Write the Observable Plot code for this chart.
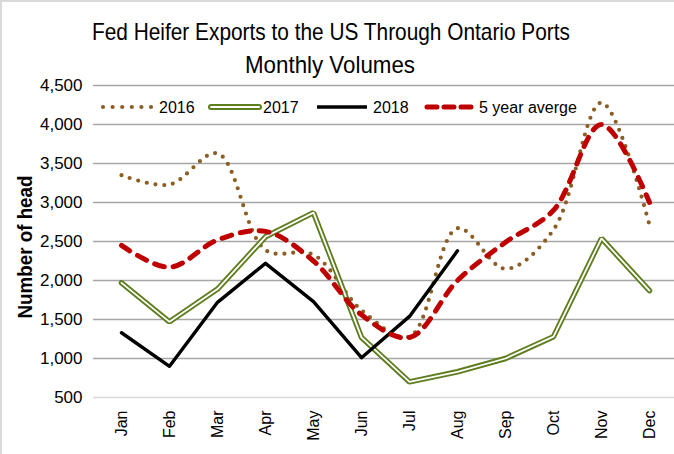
<!DOCTYPE html>
<html>
<head>
<meta charset="utf-8">
<script src="https://cdn.jsdelivr.net/npm/d3@7"></script>
<script src="https://cdn.jsdelivr.net/npm/@observablehq/plot@0.6"></script>
<style>
  html, body { margin: 0; padding: 0; background: #fff; }
  #wrap { position: relative; width: 674px; height: 454px; overflow: hidden; }
  #wrap > svg { position: absolute; left: 0; top: 0; }
  .ov text { font-family: "Liberation Sans", Arial, sans-serif; fill: #000; }
</style>
</head>
<body>
<div id="wrap"></div>
<script>
const months = ["Jan","Feb","Mar","Apr","May","Jun","Jul","Aug","Sep","Oct","Nov","Dec"];
const y2016 = [3350, 3230, 3630, 2390, 2330, 1620, 1280, 2670, 2150, 2650, 4280, 2710];
const y2017 = [1970, 1470, 1890, 2560, 2870, 1270, 700, 830, 1000, 1280, 2540, 1870];
const y2018 = [1330, 900, 1720, 2220, 1730, 1010, 1540, 2380];
const avg5  = [2450, 2170, 2520, 2630, 2250, 1560, 1270, 2000, 2490, 2900, 4000, 3000];
const yTicks = [500, 1000, 1500, 2000, 2500, 3000, 3500, 4000, 4500];
const seriesNames = ["2016", "2017", "2018", "5 year averge"];
const titleLines = ["Fed Heifer Exports to the US Through Ontario Ports", "Monthly Volumes"];
const yLabel = "Number of head";

const toRows = arr => arr.map((v, i) => ({month: months[i], value: v}));
const brown = "#8c5e24", green = "#5e7d1e", red = "#c00000";

const chart = Plot.plot({
  width: 674, height: 454,
  marginTop: 85, marginBottom: 57, marginLeft: 93, marginRight: 0,
  style: {fontFamily: "'Liberation Sans', Arial, sans-serif", fontSize: "16px", color: "#000", background: "transparent"},
  x: {type: "point", domain: months, range: [119.5, 650], padding: 0, label: null},
  y: {domain: [500, 4500], label: null},
  marks: [
    Plot.ruleY(yTicks.filter(v => v > 500), {stroke: "#a6a6a6", strokeWidth: 1.4}),
    Plot.ruleY([500], {stroke: "#d9d9d9", strokeWidth: 1.4}),
    Plot.axisY({ticks: yTicks, tickSize: 0, tickPadding: 11, tickFormat: d3.format(","), fontSize: 17, label: null}),
    Plot.axisX({tickSize: 0, tickRotate: -90, tickPadding: 13, fontSize: 16, label: null}),
    Plot.line(toRows(y2016), {x: "month", y: "value", curve: "catmull-rom", stroke: brown, strokeWidth: 4.2, strokeDasharray: "0 8.8", strokeLinecap: "round"}),
    Plot.line(toRows(y2017), {x: "month", y: "value", stroke: green, strokeWidth: 5.5, strokeLinejoin: "miter"}),
    Plot.line(toRows(y2017), {x: "month", y: "value", stroke: "#fff", strokeWidth: 1.8, strokeLinejoin: "miter"}),
    Plot.line(toRows(y2018), {x: "month", y: "value", stroke: "#000", strokeWidth: 3.4}),
    Plot.line(toRows(avg5), {x: "month", y: "value", curve: "catmull-rom", stroke: red, strokeWidth: 5, strokeDasharray: "10 9", strokeLinecap: "round"})
  ]
});
document.getElementById("wrap").appendChild(chart);

// overlay: title, y label, legend, frame border
const ns = "http://www.w3.org/2000/svg";
const ov = d3.select("#wrap").append("svg").attr("class", "ov")
  .attr("width", 674).attr("height", 454).attr("xmlns", ns);

ov.append("line").attr("x1", 1).attr("x2", 1).attr("y1", 0).attr("y2", 454).attr("stroke", "#d9d9d9").attr("stroke-width", 2);
ov.append("line").attr("x1", 0).attr("x2", 674).attr("y1", 1).attr("y2", 1).attr("stroke", "#d9d9d9").attr("stroke-width", 2);

ov.append("text").attr("x", 331).attr("y", 40).attr("text-anchor", "middle")
  .attr("font-size", 24).attr("textLength", 478).attr("lengthAdjust", "spacingAndGlyphs").text(titleLines[0]);
ov.append("text").attr("x", 330).attr("y", 73).attr("text-anchor", "middle")
  .attr("font-size", 24).attr("textLength", 170).attr("lengthAdjust", "spacingAndGlyphs").text(titleLines[1]);

ov.append("text").attr("transform", "translate(32,247) rotate(-90)").attr("text-anchor", "middle")
  .attr("font-size", 21).attr("font-weight", "bold").attr("textLength", 143).attr("lengthAdjust", "spacingAndGlyphs").text(yLabel);

const ly = 107;
const lg = ov.append("g");
lg.append("line").attr("x1", 103).attr("x2", 152).attr("y1", ly).attr("y2", ly)
  .attr("stroke", brown).attr("stroke-width", 4.2).attr("stroke-dasharray", "0 9.6").attr("stroke-linecap", "round");
lg.append("text").attr("x", 159).attr("y", ly + 6).attr("font-size", 16).text(seriesNames[0]);
lg.append("line").attr("x1", 211).attr("x2", 259).attr("y1", ly).attr("y2", ly)
  .attr("stroke", green).attr("stroke-width", 6).attr("stroke-linecap", "round");
lg.append("line").attr("x1", 211).attr("x2", 259).attr("y1", ly).attr("y2", ly)
  .attr("stroke", "#fff").attr("stroke-width", 2).attr("stroke-linecap", "round");
lg.append("text").attr("x", 263).attr("y", ly + 6).attr("font-size", 16).text(seriesNames[1]);
lg.append("line").attr("x1", 317).attr("x2", 367).attr("y1", ly).attr("y2", ly)
  .attr("stroke", "#000").attr("stroke-width", 3.4);
lg.append("text").attr("x", 373).attr("y", ly + 6).attr("font-size", 16).text(seriesNames[2]);
lg.append("line").attr("x1", 427).attr("x2", 471).attr("y1", ly).attr("y2", ly)
  .attr("stroke", red).attr("stroke-width", 5).attr("stroke-dasharray", "10 7").attr("stroke-linecap", "round");
lg.append("text").attr("x", 479).attr("y", ly + 6).attr("font-size", 16).text(seriesNames[3]);
</script>
</body>
</html>
